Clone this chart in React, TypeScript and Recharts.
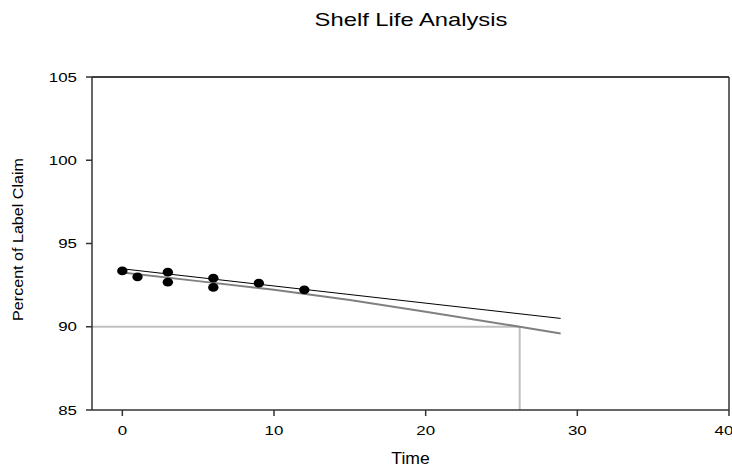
import React from 'react';
import { ComposedChart, XAxis, YAxis, Scatter, Line, ReferenceLine } from 'recharts';

// observed assay results
const obsTime = [0, 1, 3, 3, 6, 6, 9, 12];
const obsPct = [93.35, 93.0, 93.28, 92.68, 92.92, 92.36, 92.62, 92.22];

// fitted regression line
const fitTime = [0, 28.9];
const fitPct = [93.48, 90.5];

// lower one-sided confidence bound
const lowerTime = [0, 5, 10, 15, 20, 26.2, 28.9];
const lowerPct = [93.26, 92.74, 92.22, 91.6, 90.9, 90.0, 89.6];

const xTicks = [0, 10, 20, 30, 40];
const yTicks = [85, 90, 95, 100, 105];

const SPEC_LIMIT = 90;
const SHELF_LIFE = 26.2;

const FONT = '"Liberation Sans", Arial, sans-serif';
const AXIS = '#333';

const points = obsTime.map((x, i) => ({ x, y: obsPct[i] }));
const fit = fitTime.map((x, i) => ({ x, y: fitPct[i] }));
const lower = lowerTime.map((x, i) => ({ x, y: lowerPct[i] }));

const XTick = (props: any) => {
  const { x, y, payload } = props;
  return (
    <g transform={`translate(${x},${y}) scale(1.3,1)`}>
      <text textAnchor="middle" dy="0.71em" fontSize={13} fontFamily={FONT} fill="#000">
        {payload.value}
      </text>
    </g>
  );
};

const YTick = (props: any) => {
  const { x, y, payload } = props;
  return (
    <g transform={`translate(${x},${y}) scale(1.3,1)`}>
      <text textAnchor="end" dy="0.355em" fontSize={13} fontFamily={FONT} fill="#000">
        {payload.value}
      </text>
    </g>
  );
};

const Dot = (props: any) => {
  const { cx, cy } = props;
  return <ellipse cx={cx} cy={cy} rx={5.2} ry={4.4} fill="#000" />;
};

const XLabel = (props: any) => {
  const { viewBox } = props;
  const cx = viewBox.x + viewBox.width / 2;
  return (
    <g transform={`translate(${cx},${viewBox.y + 54}) scale(1.1,1)`}>
      <text textAnchor="middle" fontSize={16} fontFamily={FONT} fill="#000">Time</text>
    </g>
  );
};

const YLabel = (props: any) => {
  const { viewBox } = props;
  const cy = viewBox.y + viewBox.height / 2 - 4;
  return (
    <g transform={`translate(18,${cy}) rotate(-90) scale(1.15,1)`}>
      <text textAnchor="middle" dy="0.36em" fontSize={14} fontFamily={FONT} fill="#000">
        Percent of Label Claim
      </text>
    </g>
  );
};

export default function App() {
  return (
    <div style={{ position: 'absolute', left: 0, top: 0, width: 732, height: 468, background: '#fff' }}>
      <div
        style={{
          position: 'absolute',
          left: 411,
          top: 10,
          fontFamily: FONT,
          fontSize: 19,
          lineHeight: '19px',
          whiteSpace: 'nowrap',
          transform: 'translateX(-50%) scaleX(1.25)',
          color: '#000',
        }}
      >
        Shelf Life Analysis
      </div>
      <ComposedChart width={732} height={468} margin={{ top: 77, right: 3, bottom: 0, left: 0 }}>
        <XAxis
          type="number"
          dataKey="x"
          domain={[-2, 40]}
          ticks={xTicks}
          allowDataOverflow
          height={58}
          tickSize={6}
          tickMargin={10}
          tick={<XTick />}
          stroke={AXIS}
          strokeWidth={1.5}
          label={<XLabel />}
        />
        <YAxis
          type="number"
          dataKey="y"
          domain={[85, 105]}
          ticks={yTicks}
          allowDataOverflow
          width={92}
          tickSize={6}
          tickMargin={9}
          tick={<YTick />}
          stroke={AXIS}
          strokeWidth={1.5}
          label={<YLabel />}
        />
        <ReferenceLine y={105} stroke="#000" strokeWidth={1.5} />
        <ReferenceLine x={40} stroke={AXIS} strokeWidth={1.5} />
        <ReferenceLine
          segment={[{ x: -2, y: SPEC_LIMIT }, { x: SHELF_LIFE, y: SPEC_LIMIT }]}
          stroke="#c0c0c0"
          strokeWidth={2}
        />
        <ReferenceLine
          segment={[{ x: SHELF_LIFE, y: 85 }, { x: SHELF_LIFE, y: SPEC_LIMIT }]}
          stroke="#c0c0c0"
          strokeWidth={2}
        />
        <Line
          data={lower}
          dataKey="y"
          type="linear"
          stroke="#808080"
          strokeWidth={2}
          dot={false}
          isAnimationActive={false}
        />
        <Line
          data={fit}
          dataKey="y"
          type="linear"
          stroke="#000"
          strokeWidth={1}
          dot={false}
          isAnimationActive={false}
        />
        <Scatter data={points} dataKey="y" shape={<Dot />} isAnimationActive={false} />
      </ComposedChart>
    </div>
  );
}
